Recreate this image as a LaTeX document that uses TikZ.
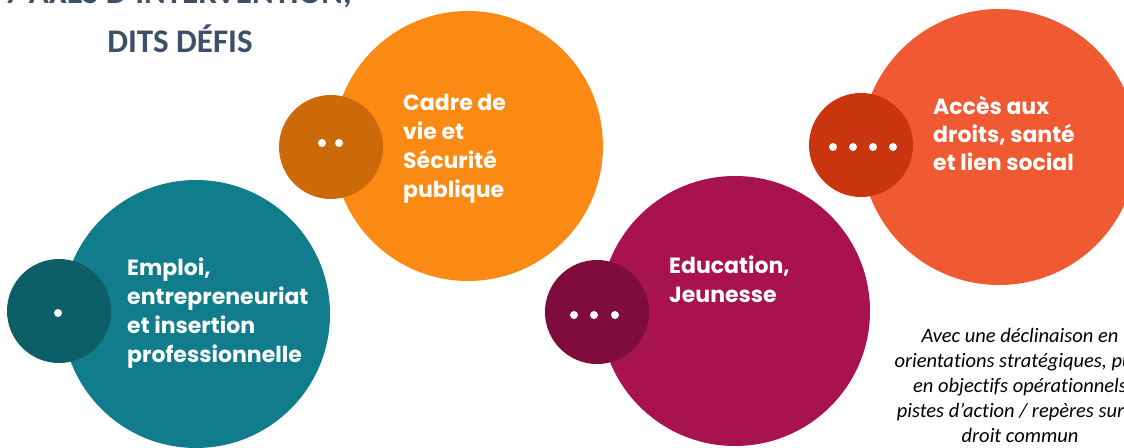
\documentclass[tikz,border=0pt]{standalone}
\usepackage{fontspec}
\newfontfamily\gothic{Poppins}
\newfontfamily\carlito{Carlito}[Ligatures={NoCommon}]
\definecolor{tealbig}{RGB}{17,125,140}
\definecolor{tealsm}{RGB}{14,94,104}
\definecolor{orabig}{RGB}{251,138,20}
\definecolor{orasm}{RGB}{204,106,10}
\definecolor{magbig}{RGB}{168,18,79}
\definecolor{magsm}{RGB}{126,12,60}
\definecolor{redbig}{RGB}{240,90,51}
\definecolor{redsm}{RGB}{201,53,15}
\definecolor{titleblue}{RGB}{62,80,105}
\begin{document}
\begin{tikzpicture}[x=1pt,y=-1pt,
  bigc/.style={circle, inner sep=0pt, draw=none, minimum size=#1},
  smallc/.style={circle, inner sep=0pt, draw=none, minimum size=104pt},
  lbl/.style={anchor=base west, align=left, text=white, inner sep=0pt,
    font=\gothic\bfseries\fontsize{22}{29}\selectfont},
  titletxt/.style={anchor=base, inner sep=0pt, text=titleblue,
    font=\carlito\bfseries\fontsize{33}{40}\selectfont},
  note/.style={anchor=base, align=center, inner sep=0pt, text=black,
    font=\carlito\itshape\fontsize{20.5}{25}\selectfont}]
\useasboundingbox (0,0) rectangle (1124,447);
\clip (0,0) rectangle (1124,447);
\fill[white] (0,0) rectangle (1124,447);
% circles
\node[bigc=268pt, fill=tealbig] (teal) at (196,314) {};
\node[smallc, fill=tealsm] (tealS) at (59,311) {};
\node[bigc=270pt, fill=orabig] (orange) at (468,146) {};
\node[smallc, fill=orasm] (orangeS) at (331,147) {};
\node[bigc=270pt, fill=magbig] (mag) at (735,311) {};
\node[smallc, fill=magsm] (magS) at (597,312) {};
\node[bigc=276pt, fill=redbig] (red) at (999,147) {};
\node[smallc, fill=redsm] (redS) at (861,145) {};
% dots
\foreach \x/\y in {58/313, 322/143, 339/143, 574/315, 594/315, 615/315, 833/147, 853/147, 873/147, 893/147}
  \fill[white] (\x,\y) circle (4pt);
% labels (base anchor = baseline of last line)
\node[lbl] (tealT) at (127,362) {Emploi,\\entrepreneuriat\\et insertion\\professionnelle};
\node[lbl] (orangeT) at (403,197) {Cadre de\\vie et\\Sécurité\\publique};
\node[lbl] (magT) at (669,302) {Education,\\Jeunesse};
\node[lbl, font=\gothic\bfseries\fontsize{22}{28}\selectfont] (redT) at (933,170) {Accès aux\\droits, santé\\et lien social};
% title
\node[titletxt] (title1) at (178,4) {7 AXES D’INTERVENTION,};
\node[titletxt] (title2) at (180,52) {DITS DÉFIS};
% note
\node[note] (noteT) at (1020,442) {Avec une déclinaison en\\orientations stratégiques, puis\\en objectifs opérationnels\\pistes d’action / repères sur le\\droit commun};
\end{tikzpicture}
\end{document}
